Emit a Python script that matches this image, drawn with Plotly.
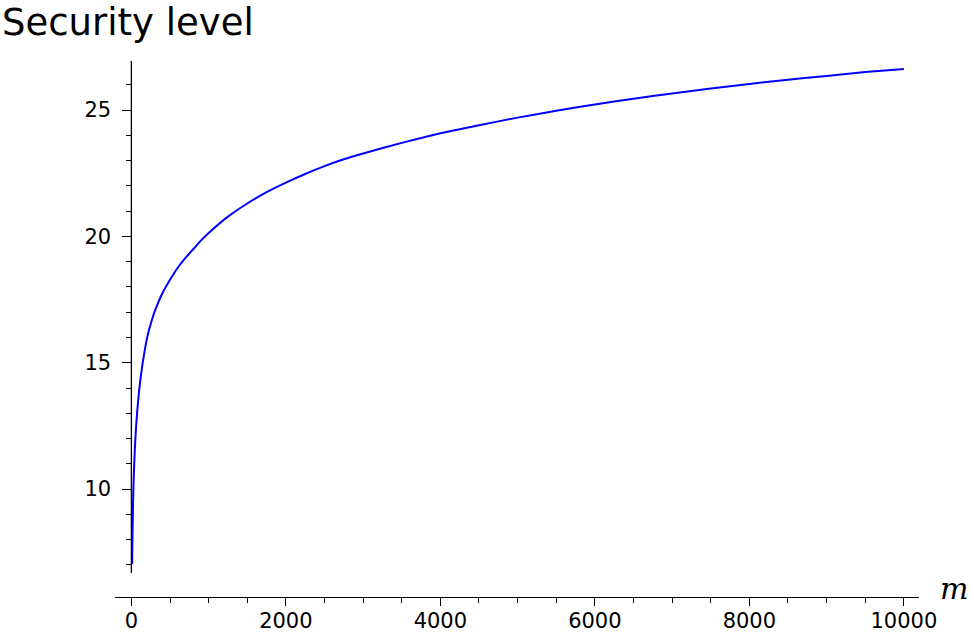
import plotly.graph_objects as go

# Data
m_values = [10, 12, 15, 20, 25, 30, 40, 50, 60, 75, 100, 125, 150, 200, 250, 300, 350,
            400, 500, 600, 700, 800, 900, 1000, 1250, 1500, 1750, 2000, 2250, 2500,
            2750, 3000, 3500, 4000, 4500, 5000, 5500, 6000, 6500, 7000, 7500, 8000,
            8500, 9000, 9500, 10000]
security = [7.04, 7.62, 8.31, 9.19, 9.89, 10.41, 11.24, 11.89, 12.41, 13.06, 13.89,
            14.53, 15.06, 15.94, 16.53, 17.01, 17.40, 17.74, 18.28, 18.76, 19.15,
            19.49, 19.83, 20.13, 20.78, 21.30, 21.75, 22.13, 22.47, 22.78, 23.05,
            23.28, 23.70, 24.08, 24.40, 24.70, 24.97, 25.22, 25.45, 25.65, 25.85,
            26.03, 26.20, 26.35, 26.50, 26.62]

x_ticks = [0, 2000, 4000, 6000, 8000, 10000]
y_ticks = [10, 15, 20, 25]
y_minor_ticks = [7, 8, 9, 11, 12, 13, 14, 16, 17, 18, 19, 21, 22, 23, 24, 26]

xmin, xmax = -212, 10196
ymin, ymax = 5.73, 26.94
y_spine_bottom = 6.68

W, H = 974, 636
ML, MR, MT, MB = 115, 55, 61, 39

fig = go.Figure()
fig.add_trace(go.Scatter(x=m_values, y=security, mode="lines",
                         line=dict(color="#0000ff", width=2, shape="spline", smoothing=0.5),
                         showlegend=False, hoverinfo="skip"))

tickfont = dict(family="DejaVu Sans", size=21, color="black")

fig.update_layout(
    width=W, height=H,
    margin=dict(l=ML, r=MR, t=MT, b=MB, autoexpand=False),
    paper_bgcolor="white", plot_bgcolor="white",
    xaxis=dict(range=[xmin, xmax], showgrid=False, zeroline=False, automargin=False,
               showline=True, linecolor="black", linewidth=1.3,
               ticks="outside", ticklen=8, tickwidth=1.3, tickcolor="black",
               tickvals=x_ticks, ticktext=[str(v) for v in x_ticks],
               tickfont=tickfont, ticklabelstandoff=-3,
               minor=dict(dtick=500, tick0=0, ticks="outside", ticklen=5,
                          tickwidth=1, tickcolor="black")),
    yaxis=dict(range=[ymin, ymax], showgrid=False, zeroline=False, automargin=False,
               showline=False, anchor="free",
               position=(0 - xmin) / (xmax - xmin),
               ticks="outside", ticklen=9, tickwidth=1.3, tickcolor="black",
               tickvals=y_ticks, ticktext=[str(v) for v in y_ticks],
               tickfont=tickfont, ticklabelstandoff=7,
               minor=dict(tickvals=y_minor_ticks, ticks="outside", ticklen=5,
                          tickwidth=1, tickcolor="black")),
)

# y-axis spine at x = 0 (ends above the x axis, as in the reference)
fig.add_shape(type="line", xref="x", yref="y", x0=0, x1=0,
              y0=y_spine_bottom, y1=ymax, line=dict(color="black", width=1.3))

plot_w = W - ML - MR
plot_h = H - MT - MB

fig.add_annotation(text="Security level", xref="paper", yref="paper",
                   x=(0 - ML) / plot_w, y=1 + (MT - 22) / plot_h,
                   xanchor="left", yanchor="middle", showarrow=False,
                   font=dict(family="DejaVu Sans", size=37, color="black"))

fig.add_annotation(text="<i>m</i>", xref="paper", yref="paper",
                   x=1 + (938 - (W - MR)) / plot_w, y=(H - MB - 588) / plot_h,
                   xanchor="left", yanchor="middle", showarrow=False,
                   font=dict(family="DejaVu Serif", size=30, color="black"))

fig.write_html("out.html", config={"displayModeBar": False},
               post_script="document.body.style.margin='0';document.body.style.overflow='hidden';")
